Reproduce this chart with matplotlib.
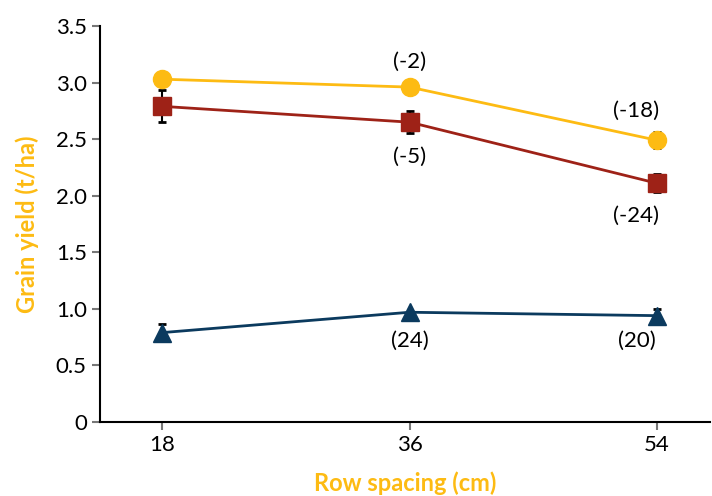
import matplotlib
matplotlib.use("Agg")
import matplotlib.pyplot as plt

espacamento = [18, 36, 54]
amarelo = [3.03, 2.96, 2.49]
amarelo_erro = [0.0, 0.0, 0.07]
vermelho = [2.79, 2.65, 2.11]
vermelho_erro = [0.14, 0.10, 0.08]
azul = [0.79, 0.97, 0.94]
azul_erro = [0.075, 0.0, 0.06]

rotulos = [
    (36, 3.18, "(-2)"), (36, 2.34, "(-5)"),
    (54, 2.75, "(-18)"), (54, 1.82, "(-24)"),
    (36, 0.72, "(24)"), (54, 0.72, "(20)"),
]

cor_amarelo = "#FDBB13"
cor_vermelho = "#9E2217"
cor_azul = "#0B3A5E"

plt.rcParams['font.family'] = ['Lato', 'DejaVu Sans']

fig = plt.figure(figsize=(7.12, 4.96), dpi=100)
ax = fig.add_axes([100 / 712, 74 / 496, 610 / 712, 396 / 496])

for valores, erros, cor, marcador, tam in [
    (azul, azul_erro, cor_azul, '^', 12.5),
    (vermelho, vermelho_erro, cor_vermelho, 's', 12.5),
    (amarelo, amarelo_erro, cor_amarelo, 'o', 13),
]:
    ax.errorbar(espacamento, valores, yerr=erros, fmt='none', ecolor='black',
                elinewidth=1.5, capsize=3, capthick=2, zorder=2)
    ax.plot(espacamento, valores, color=cor, lw=2, marker=marcador,
            markersize=tam, zorder=3)

for x, y, texto in rotulos:
    dx = -1.5 if x == 54 else 0
    ax.text(x + dx, y, texto, ha='center', va='center', fontsize=16)

ax.set_xlim(13.49, 57.85)
ax.set_ylim(0, 3.5)
ax.set_xticks(espacamento)
ax.set_yticks([0, 0.5, 1.0, 1.5, 2.0, 2.5, 3.0, 3.5])
ax.set_yticklabels(['0', '0.5', '1.0', '1.5', '2.0', '2.5', '3.0', '3.5'])
ax.tick_params(axis='both', labelsize=16, length=6, width=1.5, color='#777777')
ax.spines['top'].set_visible(False)
ax.spines['right'].set_visible(False)
ax.spines['left'].set_linewidth(1.5)
ax.spines['bottom'].set_linewidth(1.5)

ax.set_xlabel('Row spacing (cm)', color=cor_amarelo, fontsize=17,
              fontweight='bold', labelpad=12)
ax.set_ylabel('Grain yield (t/ha)', color=cor_amarelo, fontsize=17,
              fontweight='bold', labelpad=12)

fig.savefig('out.png', dpi=100)
